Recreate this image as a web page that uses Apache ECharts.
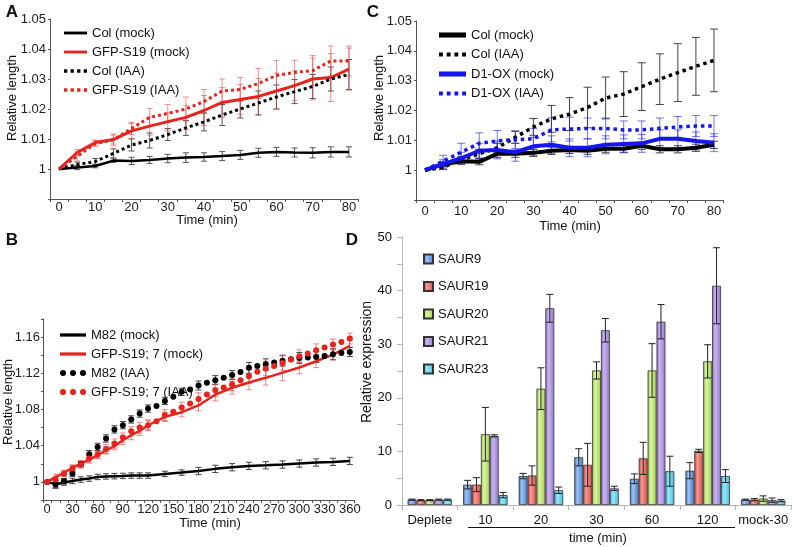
<!DOCTYPE html>
<html><head><meta charset="utf-8">
<script src="https://cdn.jsdelivr.net/npm/echarts@6/dist/echarts.min.js"></script>
<style>html,body{margin:0;padding:0;background:#fff}#c{width:793px;height:547px}</style>
</head><body><div id="c"></div>
<script>
// ---------- Panel A ----------
const timeA = ['0','5','10','15','20','25','30','35','40','45','50','55','60','65','70','75','80'];
const colMockA = [1,1.0005,1.001,1.0028,1.0027,1.003,1.0035,1.0038,1.004,1.0043,1.0047,1.0054,1.0057,1.0055,1.0054,1.0057,1.0057];
const colMockAErr = [0,0.0007,0.0006,0.0006,0.0012,0.0012,0.0014,0.0016,0.0014,0.0015,0.0015,0.0015,0.0015,0.0015,0.0017,0.0017,0.0017];
const gfpMockA = [1,1.0055,1.0088,1.0098,1.0127,1.0143,1.0158,1.0172,1.0195,1.0222,1.0232,1.0242,1.026,1.0278,1.03,1.0305,1.0333];
const gfpMockAErr = [0,0.001,0.0008,0.0015,0.0025,0.003,0.003,0.004,0.005,0.005,0.005,0.006,0.006,0.005,0.007,0.008,0.007];
const colIaaA = [1,1.0015,1.0025,1.0052,1.008,1.0095,1.0115,1.0137,1.0157,1.018,1.02,1.022,1.024,1.0258,1.0275,1.03,1.0315];
const colIaaAErr = [0,0.0008,0.001,0.0015,0.002,0.0025,0.002,0.0025,0.003,0.0035,0.003,0.004,0.004,0.004,0.004,0.004,0.005];
const gfpIaaA = [1,1.0042,1.0085,1.0097,1.0135,1.0172,1.0185,1.02,1.0225,1.026,1.0265,1.0285,1.0312,1.0322,1.0328,1.036,1.036];
const gfpIaaAErr = [0,0.0015,0.001,0.002,0.002,0.003,0.003,0.004,0.004,0.004,0.004,0.005,0.005,0.004,0.005,0.005,0.005];

// ---------- Panel C ----------
const timeC = timeA;
const colMockC = [1,1.002,1.003,1.0028,1.0055,1.0055,1.0058,1.0065,1.0068,1.0065,1.0072,1.0072,1.0082,1.007,1.007,1.0075,1.0085];
const colMockCErr = [0,0.0008,0.001,0.001,0.0012,0.0012,0.0012,0.0012,0.0012,0.0012,0.0012,0.0012,0.0012,0.0012,0.0012,0.0012,0.0012];
const colIaaC = [1,1.001,1.0035,1.0055,1.0075,1.011,1.0145,1.0172,1.0188,1.021,1.0242,1.0255,1.028,1.0305,1.0327,1.0348,1.0368];
const colIaaCErr = [0,0.0008,0.001,0.0015,0.0015,0.002,0.0028,0.0045,0.0055,0.0068,0.007,0.0075,0.008,0.0085,0.0097,0.0097,0.0105];
const d1MockC = [1,1.002,1.004,1.0065,1.0068,1.006,1.008,1.0085,1.0075,1.0075,1.0085,1.0088,1.009,1.0105,1.0105,1.0098,1.0092];
const d1MockCErr = [0,0.0015,0.002,0.0025,0.003,0.003,0.003,0.003,0.003,0.003,0.003,0.003,0.003,0.003,0.003,0.003,0.003];
const d1IaaC = [1,1.003,1.006,1.009,1.0098,1.0102,1.0105,1.0135,1.0138,1.014,1.014,1.0135,1.0135,1.014,1.0145,1.0148,1.0148];
const d1IaaCErr = [0,0.002,0.003,0.0035,0.0035,0.003,0.0035,0.004,0.004,0.0035,0.0035,0.003,0.003,0.0035,0.0035,0.0035,0.0035];

// ---------- Panel B ----------
const timeB = ['0','10','20','30','40','50','60','70','80','90','100','110','120','130','140','150','160','170','180','190','200','210','220','230','240','250','260','270','280','290','300','310','320','330','340','350','360'];
const m82Mock = [1,0.9975,0.9993,1.001,1.0026,1.0037,1.0055,1.006,1.0063,1.0066,1.007,1.007,1.007,null,1.0088,null,1.0103,null,1.012,null,1.0144,null,1.0162,null,1.0177,null,1.0184,null,1.0192,null,1.0203,null,1.0214,null,1.0221,null,1.0232];
const m82MockErr = [null,0.004,0.003,0.003,0.003,0.003,0.003,0.003,0.003,0.003,0.003,0.003,0.003,null,0.003,null,0.003,null,0.004,null,0.004,null,0.004,null,0.004,null,0.004,null,0.004,null,0.004,null,0.004,null,0.004,null,0.004];
const gfpMockB = [1,1.0055,1.01,1.0155,1.0203,1.0247,1.0295,1.035,1.0394,1.046,1.0516,1.0564,1.0626,null,1.0718,null,1.077,null,1.0845,null,1.0965,null,1.104,null,1.1098,null,1.115,null,1.1208,null,1.1264,null,1.1333,null,1.1407,null,1.1503];
const gfpMockBErr = [null,0.003,0.003,0.003,0.003,0.004,0.004,0.004,0.004,0.005,0.005,0.005,0.005,null,0.005,null,0.005,null,0.006,null,0.007,null,0.007,null,0.008,null,0.008,null,0.009,null,0.007,null,0.007,null,0.006,null,0.006];
const m82Iaa = [1,0.997,1.0007,1.0092,1.0195,1.0306,1.0387,1.048,1.058,1.0627,1.069,1.0755,1.081,1.084,1.0895,1.094,1.0995,1.102,1.1065,1.1095,1.1124,1.115,1.118,1.1215,1.126,1.128,1.13,1.132,1.134,1.1355,1.137,1.1375,1.138,1.139,1.141,1.1425,1.1436];
const m82IaaErr = [null,0.004,0.003,0.003,0.003,0.004,0.004,0.004,0.004,0.004,0.004,0.004,0.004,null,0.004,null,0.004,null,0.005,null,0.005,null,0.005,null,0.006,null,0.006,null,0.006,null,0.006,null,0.006,null,0.006,null,0.005];
const gfpIaaB = [1,1.0026,1.009,1.0147,1.0192,1.0258,1.0302,1.0361,1.0424,1.049,1.056,1.06,1.0626,1.067,1.0737,1.0774,1.0822,1.0866,1.0916,1.0965,1.1013,1.1043,1.1076,1.1124,1.1168,1.1216,1.1253,1.1282,1.1315,1.1352,1.1389,1.1418,1.1455,1.1485,1.1518,1.1547,1.1584];
const gfpIaaBErr = [null,0.003,0.003,0.004,0.004,0.004,0.004,0.005,0.005,0.005,0.005,0.006,0.006,null,0.006,null,0.006,null,0.007,null,0.007,null,0.007,null,0.008,null,0.008,null,0.008,null,0.007,null,0.007,null,0.006,null,0.006];

// ---------- Panel D ----------
const catD = ['Deplete','10','20','30','60','120','mock-30'];
const genesD = ['SAUR9','SAUR19','SAUR20','SAUR21','SAUR23'];
const saur9 = [1.0,3.8,5.4,8.9,4.9,6.4,1.0];
const saur9Err = [0.1,0.8,0.5,1.6,0.9,1.5,0.1];
const saur19 = [0.9,3.8,5.5,7.5,8.7,10.1,1.0];
const saur19Err = [0.1,1.3,1.8,4.0,3.0,0.3,0.2];
const saur20 = [0.9,13.2,21.7,25.1,25.1,26.8,1.2];
const saur20Err = [0.1,5.0,3.9,1.6,5.0,3.1,0.5];
const saur21 = [1.0,12.9,36.7,32.6,34.2,40.9,0.9];
const saur21Err = [0.1,0.2,2.6,2.2,3.2,7.1,0.4];
const saur23 = [1.0,1.85,2.75,3.1,6.3,5.4,0.8];
const saur23Err = [0.1,0.5,0.6,0.4,2.8,1.2,0.2];

const F = 'Liberation Sans, Arial, sans-serif';
const RED = '#e8221c', BLUE = '#1515ee';

function errBars(idx, vals, errs, color, capHalf, offsetFn) {
  const data = [];
  vals.forEach((v, i) => { if (v != null && errs[i] != null && errs[i] > 0) data.push([i, v - errs[i], v + errs[i]]); });
  return { type: 'custom', xAxisIndex: idx, yAxisIndex: idx, data, silent: true, z: 3,
    encode: { x: 0, y: [1, 2] },
    renderItem(params, api) {
      const x = api.value(0);
      const lo = api.coord([x, api.value(1)]);
      const hi = api.coord([x, api.value(2)]);
      let px = lo[0];
      if (offsetFn) px += offsetFn(api);
      const st = { stroke: color, lineWidth: 1 };
      return { type: 'group', children: [
        { type: 'line', shape: { x1: px, y1: lo[1], x2: px, y2: hi[1] }, style: st },
        { type: 'line', shape: { x1: px - capHalf, y1: lo[1], x2: px + capHalf, y2: lo[1] }, style: st },
        { type: 'line', shape: { x1: px - capHalf, y1: hi[1], x2: px + capHalf, y2: hi[1] }, style: st }
      ] };
    } };
}
function lineS(name, idx, data, color, width, dash, extra) {
  return Object.assign({ type: 'line', name, xAxisIndex: idx, yAxisIndex: idx, data, symbol: 'none',
    connectNulls: true, z: 5,
    lineStyle: { color, width, type: dash || 'solid' }, itemStyle: { color } }, extra || {});
}
function relFmt(v) { if (v < 0.995) return ''; return Math.abs(v - 1) < 1e-9 ? '1' : v.toFixed(2); }
function relFmtB(v) { const k = Math.round((v - 1) * 100); if (k < 0 || k > 16 || k % 4 !== 0) return ''; return k === 0 ? '1' : v.toFixed(2); }

const axisCol = '#555';
function catAxis(idx, data, labelInterval, margin) {
  return { type: 'category', gridIndex: idx, data, boundaryGap: true,
    axisLine: { lineStyle: { color: axisCol, width: 1 } },
    axisTick: { show: true, interval: 0, length: 3, lineStyle: { color: axisCol } },
    axisLabel: { interval: labelInterval, margin, fontSize: 13, fontFamily: F, color: '#222' },
    splitLine: { show: false } };
}
function valAxis(idx, min, max, interval, fmt, margin) {
  return { type: 'value', gridIndex: idx, min, max, interval,
    axisLine: { show: true, lineStyle: { color: axisCol } },
    axisTick: { show: true, length: 2, lineStyle: { color: axisCol } },
    axisLabel: { formatter: fmt, margin, fontSize: 13, fontFamily: F, color: '#222', showMinLabel: true, showMaxLabel: true },
    splitLine: { show: false } };
}
const dotIcon = 'path://M0 3a3 3 0 1 0 6 0a3 3 0 1 0 -6 0M10 3a3 3 0 1 0 6 0a3 3 0 1 0 -6 0M20 3a3 3 0 1 0 6 0a3 3 0 1 0 -6 0';
const sqIcon = 'path://M0 0h3v3h-3zM6 0h3v3h-3zM12 0h3v3h-3zM18 0h3v3h-3z';
const solid3 = 'path://M0 0h24v3h-24z';
const solid4 = 'path://M0 0h24v4.5h-24z';
const stripFmt = n => n.replace(/\|.*$/, '');
const legText = { fontSize: 13, fontFamily: F, color: '#111', lineHeight: 14 };

const barColors = [
  ['#3f73c6', '#9cc3f2', '#4a7bcc'],
  ['#d63b36', '#f59a95', '#dc4a44'],
  ['#8cc63a', '#dcf3a6', '#a2d24a'],
  ['#8466c2', '#c9b6ee', '#9278cc'],
  ['#2bb0d6', '#9be6f6', '#3ec2e2']
];
const barVals = [saur9, saur19, saur20, saur21, saur23];
const barErrs = [saur9Err, saur19Err, saur20Err, saur21Err, saur23Err];
const dotExtra = { symbol: 'circle', symbolSize: 6, showSymbol: true, showAllSymbol: true, lineStyle: { width: 0, opacity: 0 } };

const series = [
  // A
  errBars(0, colMockA, colMockAErr, '#555', 3),
  errBars(0, colIaaA, colIaaAErr, '#555', 3),
  errBars(0, gfpMockA, gfpMockAErr, 'rgba(232,60,60,0.55)', 3),
  errBars(0, gfpIaaA, gfpIaaAErr, 'rgba(232,60,60,0.55)', 3),
  lineS('Col (mock)', 0, colMockA, '#000', 2.5),
  lineS('GFP-S19 (mock)', 0, gfpMockA, RED, 3),
  lineS('Col (IAA)', 0, colIaaA, '#000', 3, [3, 3]),
  lineS('GFP-S19 (IAA)', 0, gfpIaaA, RED, 3, [3, 3]),
  // C
  errBars(1, colMockC, colMockCErr, '#444', 4),
  errBars(1, colIaaC, colIaaCErr, '#444', 4),
  errBars(1, d1MockC, d1MockCErr, 'rgba(40,40,230,0.65)', 4),
  errBars(1, d1IaaC, d1IaaCErr, 'rgba(40,40,230,0.65)', 4),
  lineS('Col (mock)|C', 1, colMockC, '#000', 4),
  lineS('Col (IAA)|C', 1, colIaaC, '#000', 3.5, [3.5, 3.8]),
  lineS('D1-OX (mock)', 1, d1MockC, BLUE, 4),
  lineS('D1-OX (IAA)', 1, d1IaaC, BLUE, 3.5, [3.5, 3.8]),
  // B
  errBars(2, m82Mock, m82MockErr, '#444', 3),
  errBars(2, m82Iaa, m82IaaErr, '#444', 3),
  errBars(2, gfpMockB, gfpMockBErr, 'rgba(232,60,60,0.6)', 3),
  errBars(2, gfpIaaB, gfpIaaBErr, 'rgba(232,60,60,0.6)', 3),
  lineS('M82 (mock)', 2, m82Mock, '#000', 2.5),
  lineS('GFP-S19; 7 (mock)', 2, gfpMockB, RED, 2.5),
  lineS('M82 (IAA)', 2, m82Iaa, '#000', 0, null, dotExtra),
  lineS('GFP-S19; 7 (IAA)', 2, gfpIaaB, RED, 0, null, dotExtra)
];
genesD.forEach((g, k) => {
  const c = barColors[k];
  series.push({ type: 'bar', name: g, xAxisIndex: 3, yAxisIndex: 3, data: barVals[k],
    barGap: '0%', barCategoryGap: '20%', z: 2,
    itemStyle: { borderColor: '#333', borderWidth: 0.8,
      color: { type: 'linear', x: 0, y: 0, x2: 1, y2: 0, colorStops: [
        { offset: 0, color: c[0] }, { offset: 0.35, color: c[1] }, { offset: 1, color: c[2] }] } } });
});
genesD.forEach((g, k) => {
  series.push(errBars(3, barVals[k], barErrs[k], '#222', 3.5, api => (k - 2) * api.size([1, 0])[0] * 0.8 / 5));
});

const T = (text, x, y, size, rot, bold) => ({ type: 'text', x, y, rotation: rot || 0, z: 50,
  style: { text, fill: '#111', font: (bold ? 'bold ' : '') + size + 'px ' + F, align: 'center', verticalAlign: 'middle' } });

const option = {
  animation: false,
  backgroundColor: '#fff',
  grid: [
    { left: 50, top: 19, width: 308, height: 180 },
    { left: 416, top: 21, width: 307, height: 179 },
    { left: 43, top: 319, width: 311, height: 181 },
    { left: 402, top: 237, width: 389, height: 268 }
  ],
  xAxis: [
    catAxis(0, timeA, 1, 2),
    catAxis(1, timeC, 1, 5),
    catAxis(2, timeB, 2, 3),
    { type: 'category', gridIndex: 3, data: catD, boundaryGap: true,
      axisLine: { lineStyle: { color: '#b5b5b5' } },
      axisTick: { show: true, interval: 0, length: 5, lineStyle: { color: '#b5b5b5' } },
      axisLabel: { interval: 0, margin: 9, fontSize: 13, fontFamily: F, color: '#111' } }
  ],
  yAxis: [
    valAxis(0, 0.99, 1.05, 0.01, relFmt, 4),
    valAxis(1, 0.99, 1.05, 0.01, relFmt, 4),
    valAxis(2, 0.98, 1.18, 0.02, relFmtB, 3),
    { type: 'value', gridIndex: 3, min: 0, max: 50, interval: 10,
      axisLine: { show: true, lineStyle: { color: '#b5b5b5' } },
      axisTick: { show: true, length: 5, lineStyle: { color: '#b5b5b5' } },
      minorTick: { show: true, splitNumber: 2, length: 5, lineStyle: { color: '#b5b5b5' } },
      axisLabel: { margin: 10, fontSize: 13, fontFamily: F, color: '#111' },
      splitLine: { show: false } }
  ],
  legend: [
    { orient: 'vertical', left: 59, top: 21, itemWidth: 23, itemHeight: 14, itemGap: 5, selectedMode: false,
      data: [{ name: 'Col (mock)', icon: solid3 }, { name: 'GFP-S19 (mock)', icon: solid3 },
             { name: 'Col (IAA)', icon: sqIcon }, { name: 'GFP-S19 (IAA)', icon: sqIcon }], textStyle: legText },
    { orient: 'vertical', left: 434, top: 23, itemWidth: 27, itemHeight: 14, itemGap: 5.5, selectedMode: false,
      data: [{ name: 'Col (mock)|C', icon: solid4 }, { name: 'Col (IAA)|C', icon: sqIcon },
             { name: 'D1-OX (mock)', icon: solid4 }, { name: 'D1-OX (IAA)', icon: sqIcon }], formatter: stripFmt, textStyle: legText },
    { orient: 'vertical', left: 55, top: 323, itemWidth: 26, itemHeight: 14, itemGap: 5, selectedMode: false,
      data: [{ name: 'M82 (mock)', icon: solid3 }, { name: 'GFP-S19; 7 (mock)', icon: solid3 },
             { name: 'M82 (IAA)', icon: dotIcon }, { name: 'GFP-S19; 7 (IAA)', icon: dotIcon }],
      textStyle: legText },
    { orient: 'vertical', left: 418, top: 247, icon: 'rect', itemWidth: 9, itemHeight: 9, itemGap: 13.5, selectedMode: false,
      data: genesD, textStyle: legText }
  ],
  graphic: [
    T('A', 12, 12, 17, 0, true),
    T('C', 373, 12, 17, 0, true),
    T('B', 12, 240, 17, 0, true),
    T('D', 352, 240, 17, 0, true),
    T('Time (min)', 207, 220, 13),
    T('Time (min)', 570, 226, 13),
    T('Time (min)', 210, 523, 13),
    T('time (min)', 598, 538, 13),
    T('Relative length', 12, 98, 13, Math.PI / 2),
    T('Relative length', 379, 98, 13, Math.PI / 2),
    T('Relative length', 8, 402, 13, Math.PI / 2),
    T('Relative expression', 367, 362, 14, Math.PI / 2),
    { type: 'line', shape: { x1: 468, y1: 527.5, x2: 735, y2: 527.5 }, style: { stroke: '#111', lineWidth: 1 }, z: 50 }
  ],
  series
};
const chart = echarts.init(document.getElementById('c'), null, { renderer: 'canvas' });
chart.setOption(option);
</script></body></html>
